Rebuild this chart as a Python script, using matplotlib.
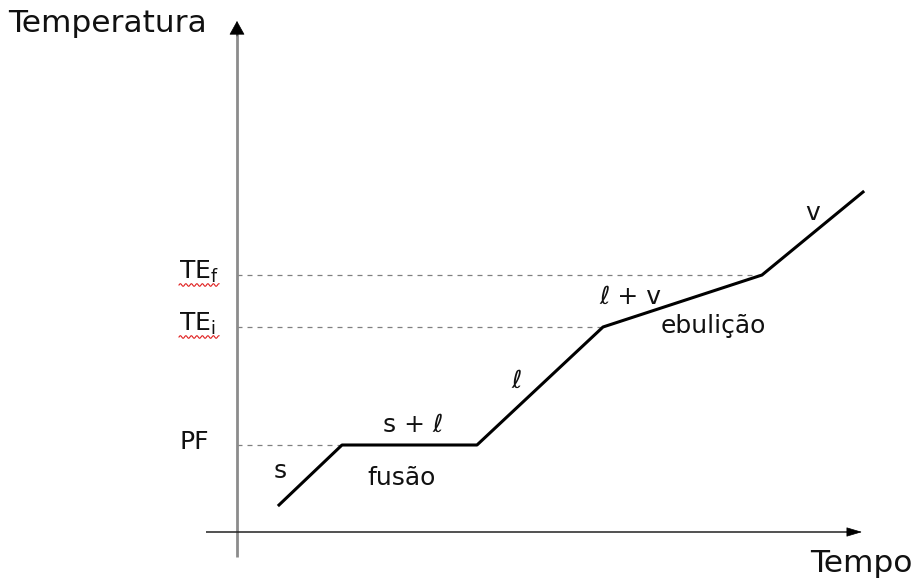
import numpy as np
import matplotlib
matplotlib.use("Agg")
import matplotlib.pyplot as plt

# ---- data (time, temperature) of the heating curve ----
tempo = [4.2, 10.5, 24.0, 36.6, 52.5, 62.6]
temperatura = [2.7, 8.7, 8.7, 20.5, 25.7, 34.0]

# reference levels: (label, value, time where the dashed line ends)
niveis_labels = ["PF", "TE$_\\mathregular{i}$", "TE$_\\mathregular{f}$"]
niveis_valores = [8.7, 20.5, 25.7]
niveis_fim = [10.5, 36.6, 52.5]

# region annotations: text, time, temperature (baseline)
regioes_texto = ["s", "s + ℓ", "fusão", "ℓ", "ℓ + v", "ebulição", "v"]
regioes_t = [4.3, 17.6, 16.5, 28.0, 39.3, 47.6, 57.6]
regioes_T = [5.4, 10.0, 4.7, 14.4, 22.8, 19.9, 31.2]

plt.rcParams['font.family'] = ['DejaVu Sans']

fig = plt.figure(figsize=(9.18, 5.81), dpi=100)
ax = fig.add_axes([0, 0, 1, 1])
ax.set_xlim(-23.7, 68.1)
ax.set_ylim(-4.9, 53.2)
ax.axis('off')

# axes lines
ax.plot([0, 0], [-2.5, 49.9], color='#8c8c8c', lw=2.0, solid_capstyle='butt', zorder=2)
ax.annotate('', xy=(0, 51.1), xytext=(0, 49.6),
            arrowprops=dict(arrowstyle='-|>,head_length=9,head_width=5', color='black',
                            lw=0.5, shrinkA=0, shrinkB=0, mutation_scale=1))
ax.plot([-3.1, 61.4], [0, 0], color='#222222', lw=1.1, solid_capstyle='butt', zorder=2)
ax.annotate('', xy=(62.5, 0), xytext=(61.0, 0),
            arrowprops=dict(arrowstyle='-|>,head_length=10,head_width=3', color='black',
                            lw=0.5, shrinkA=0, shrinkB=0, mutation_scale=1))

# dashed reference lines and labels
for lab, v, fim in zip(niveis_labels, niveis_valores, niveis_fim):
    ax.plot([0, fim], [v, v], color='#808080', lw=0.9, ls=(0, (4, 4)), zorder=1)
    ax.text(-5.8, v - 0.4, lab, fontsize=18, ha='left', va='baseline', color='#111111')

# red spell-check wavy underlines under TE labels
for v in niveis_valores[1:]:
    xs = np.linspace(-5.8, -1.8, 70)
    ys = v - 1.0 + 0.13 * np.sin((xs + 5.8) / 0.55 * 2 * np.pi)
    ax.plot(xs, ys, color='#e02020', lw=0.8, zorder=3)

# heating curve
ax.plot(tempo, temperatura, color='black', lw=2.2, solid_joinstyle='round', zorder=4)

# region labels
for txt, t, T in zip(regioes_texto, regioes_t, regioes_T):
    ax.text(t, T, txt, fontsize=18, ha='center', va='baseline', color='#111111')

# axis titles
ax.text(-22.9, 50.0, "Temperatura", fontsize=22.5, ha='left', va='baseline', color='#111111')
ax.text(67.6, -4.0, "Tempo", fontsize=22.5, ha='right', va='baseline', color='#111111')

fig.savefig("out.png", dpi=100, facecolor='white')
